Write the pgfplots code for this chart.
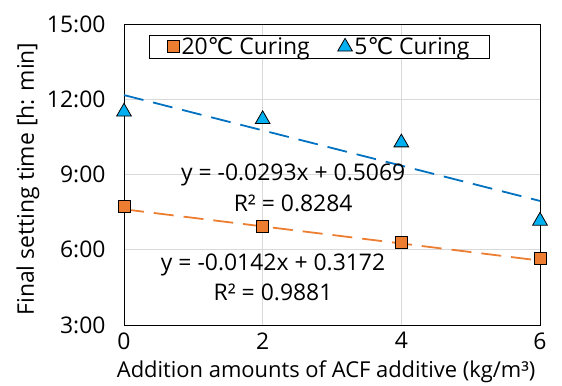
\documentclass[border=0pt]{standalone}
\usepackage{fontspec}
\setmainfont{Open Sans}
\newfontfamily\djv{DejaVu Sans}
\newcommand{\degC}{{\djv ℃}}
\usepackage{pgfplots}
\pgfplotsset{compat=1.18}
\definecolor{orA}{HTML}{ED7D31}
\definecolor{blA}{HTML}{00B0F0}
\definecolor{blL}{HTML}{0070C0}
\newcommand{\fs}{\fontsize{23}{26}\selectfont}
\begin{document}
\begin{tikzpicture}[x=1bp,y=1bp]
\path[use as bounding box] (-124,-60) rectangle (438,301+24);
\begin{axis}[
  at={(0,0)}, anchor=south west,
  scale only axis, width=416bp, height=301bp,
  xmin=0, xmax=6, ymin=3, ymax=15,
  xtick={0,2,4,6}, ytick={3,6,9,12,15},
  yticklabels={3:00,6:00,9:00,12:00,15:00},
  grid=major, major grid style={gray!30, line width=0.8pt},
  axis line style={black, line width=0.9pt},
  tick style={draw=none},
  ticklabel style={font=\fs},
  xticklabel style={yshift=-4bp},
  yticklabel style={xshift=-15bp},
  /pgf/number format/assume math mode=true,
  xlabel={Addition amounts of ACF additive (kg/m³)},
  ylabel={Final setting time [h: min]},
  label style={font=\fs},
  xlabel style={at={(axis description cs:0.486,0)}, anchor=center, yshift=-47bp, font=\fontsize{22}{25}\selectfont},
  ylabel style={at={(axis description cs:-0.2308,0.485)}, anchor=center},
  legend style={at={(0.47,0.963)}, anchor=north, legend columns=2,
    draw=black, line width=0.9pt, font=\fs, inner ysep=0bp, inner xsep=18bp,
    /tikz/every even column/.append style={column sep=26bp}},
  legend cell align=left,
]
\addplot[only marks, mark=square*, mark size=6bp, mark options={fill=orA, draw=black, line width=0.8pt}]
  coordinates {(0,7.74) (2,6.92) (4,6.28) (6,5.66)};
\addlegendentry{20\degC\ Curing}
\addplot[only marks, mark=triangle*, mark size=8.5bp, mark options={fill=blA, draw=black, line width=0.8pt}]
  coordinates {(0,11.5) (2,11.2) (4,10.27) (6,7.15)};
\addlegendentry{5\degC\ Curing}
\addplot[orA, line width=1.8pt, dash pattern=on 20bp off 10bp, forget plot]
  coordinates {(0,7.613) (6,5.568)};
\addplot[blL, line width=1.8pt, dash pattern=on 20bp off 10bp, forget plot]
  coordinates {(0,12.166) (6,7.946)};
\node[font=\fs] at (axis cs:2.44,8.98) {y = -0.0293x + 0.5069};
\node[font=\fs] at (axis cs:2.44,7.86) {R² = 0.8284};
\node[font=\fs] at (axis cs:2.15,5.39) {y = -0.0142x + 0.3172};
\node[font=\fs] at (axis cs:2.15,4.31) {R² = 0.9881};
\end{axis}
\end{tikzpicture}
\end{document}
